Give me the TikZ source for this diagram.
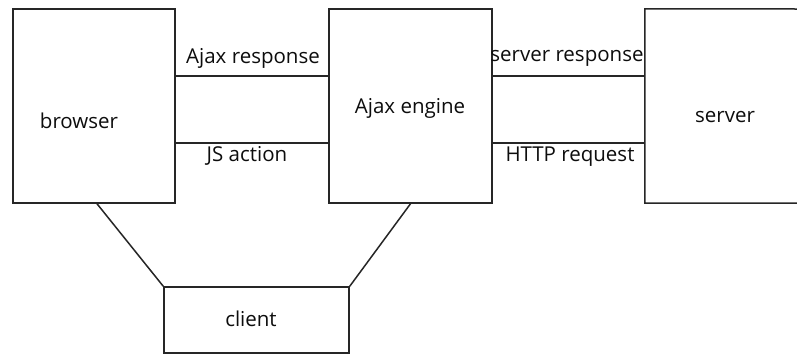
\documentclass[tikz,border=0pt]{standalone}
\usepackage{fontspec}
\setmainfont{Open Sans}
\begin{document}
\begin{tikzpicture}[x=1pt,y=-1pt,
  box/.style={draw=black!85,line width=1.5pt,inner sep=0pt},
  lbl/.style={font=\fontsize{20.5}{22}\selectfont,text=black!95,inner sep=0pt},
  conn/.style={draw=black!85,line width=1.5pt}]
\useasboundingbox[fill=white] (0,0) rectangle (797,354);
\node[box,minimum width=162pt,minimum height=194pt] (browser) at (94,106) {};
\node[box,minimum width=163pt,minimum height=194pt] (engine) at (410.5,106) {};
\node[minimum width=160pt,minimum height=194pt,inner sep=0pt] (server) at (725,106) {};
\node[box,minimum width=185pt,minimum height=66pt] (client) at (256.5,320) {};
\draw[conn] (797,9) -- (server.north west) -- (server.south west) -- (797,203);
\node[lbl] (tb) at (79,121) {browser};
\node[lbl] (te) at (410,108) {Ajax engine};
\node[lbl] (ts) at (725,117) {server};
\node[lbl] (tc) at (251,319) {client};
\node[lbl] (l1) at (253,58) {Ajax response};
\node[lbl] (l2) at (247,156) {JS action};
\node[lbl] (l3) at (567,58) {server response};
\node[lbl] (l4) at (570,157) {HTTP request};
\draw[conn] ([yshift=30pt]browser.east) -- ([yshift=30pt]engine.west);
\draw[conn] ([yshift=-37pt]browser.east) -- ([yshift=-37pt]engine.west);
\draw[conn] ([yshift=30pt]engine.east) -- ([yshift=30pt]server.west);
\draw[conn] ([yshift=-37pt]engine.east) -- ([yshift=-37pt]server.west);
\draw[conn] ([xshift=3pt]browser.south) -- (client.north west);
\draw[conn] (engine.south) -- (client.north east);
\end{tikzpicture}
\end{document}
